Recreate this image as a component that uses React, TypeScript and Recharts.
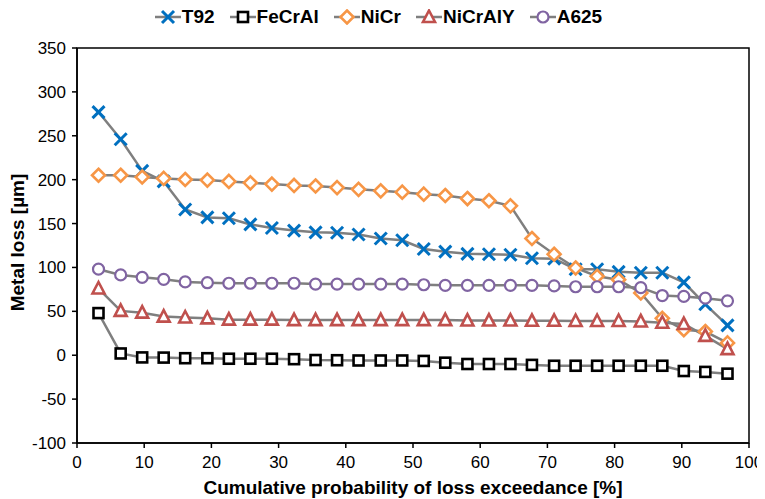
import React from "react";
import { LineChart, Line, XAxis, YAxis, ReferenceArea, Legend } from "recharts";

const probability = [3.2, 6.5, 9.7, 12.9, 16.1, 19.4, 22.6, 25.8, 29.0, 32.3, 35.5, 38.7, 41.9, 45.2, 48.4, 51.6, 54.8, 58.1, 61.3, 64.5, 67.7, 71.0, 74.2, 77.4, 80.6, 83.9, 87.1, 90.3, 93.5, 96.8];
const t92 = [277, 246, 210, 198, 166, 157, 156, 149, 145, 142, 140, 139.5, 137.5, 133, 131, 121, 118, 115.5, 115, 114.5, 110.5, 110, 98, 98, 95, 94, 94, 83, 58, 34];
const fecral = [48, 2, -2.5, -2.7, -3.4, -3.4, -4, -4, -4, -4.5, -5.5, -5.7, -6, -6, -6, -6.5, -8.5, -10, -10, -10, -11, -12, -12, -12, -12, -12, -12, -18, -19, -21];
const nicr = [205, 205, 203, 201.4, 200.2, 199.5, 198, 196.4, 195, 193.4, 192.8, 191, 189, 187.3, 185.8, 183.5, 182, 178.5, 176, 170.2, 133, 115, 99.4, 90, 86, 71, 42, 29, 27, 14];
const nicraly = [76, 50.5, 48.5, 44, 43, 42, 40.5, 40.5, 40.5, 40, 40, 40, 40, 40, 40, 40, 40, 39.5, 39.5, 39.5, 39.2, 39.2, 39, 39, 39, 38.5, 37, 35.5, 22, 7];
const a625 = [98, 91.5, 88.7, 86.5, 83.5, 82.6, 82, 82, 82, 82, 81, 81, 81, 81, 81, 80.3, 79.6, 79.6, 79.6, 79.6, 79.6, 79, 78, 78, 78, 77, 68, 67, 65, 62];

const seriesNames = ["T92", "FeCrAl", "NiCr", "NiCrAlY", "A625"];
const xTicks = [0, 10, 20, 30, 40, 50, 60, 70, 80, 90, 100];
const yTicks = [-100, -50, 0, 50, 100, 150, 200, 250, 300, 350];

const data = probability.map((p, i) => ({
  p,
  T92: t92[i],
  FeCrAl: fecral[i],
  NiCr: nicr[i],
  NiCrAlY: nicraly[i],
  A625: a625[i],
}));

const FONT = '"Liberation Sans", Arial, sans-serif';
const LINE_GRAY = "#7f7f7f";
const BLUE = "#0070c0";
const ORANGE = "#f79646";
const RED = "#c0504d";
const PURPLE = "#8064a2";

type M = { cx: number; cy: number };

const XMark = ({ cx, cy }: M) => (
  <g>
    <line x1={cx - 6} y1={cy - 6} x2={cx + 6} y2={cy + 6} stroke={BLUE} strokeWidth={3} />
    <line x1={cx - 6} y1={cy + 6} x2={cx + 6} y2={cy - 6} stroke={BLUE} strokeWidth={3} />
  </g>
);
const SquareMark = ({ cx, cy }: M) => (
  <rect x={cx - 5} y={cy - 5} width={10} height={10} fill="#fff" stroke="#000" strokeWidth={2.6} />
);
const DiamondMark = ({ cx, cy }: M) => (
  <polygon points={`${cx},${cy - 6.5} ${cx + 6.5},${cy} ${cx},${cy + 6.5} ${cx - 6.5},${cy}`} fill="#fff" stroke={ORANGE} strokeWidth={2.6} />
);
const TriangleMark = ({ cx, cy }: M) => (
  <polygon points={`${cx},${cy - 6.5} ${cx + 6},${cy + 5} ${cx - 6},${cy + 5}`} fill="#fff" stroke={RED} strokeWidth={2.6} />
);
const CircleMark = ({ cx, cy }: M) => (
  <circle cx={cx} cy={cy} r={5.5} fill="#fff" stroke={PURPLE} strokeWidth={2.2} />
);

const markers: Record<string, (p: M) => React.ReactElement> = {
  T92: XMark,
  FeCrAl: SquareMark,
  NiCr: DiamondMark,
  NiCrAlY: TriangleMark,
  A625: CircleMark,
};

const dotFor = (name: string) => (props: any) => {
  const Mk = markers[name];
  if (props.cx == null || props.cy == null) return <g key={`${name}-${props.index}`} />;
  return (
    <g key={`${name}-${props.index}`}>
      <Mk cx={props.cx} cy={props.cy} />
    </g>
  );
};

const LegendContent = () => (
  <div
    style={{
      height: 40,
      display: "flex",
      justifyContent: "center",
      alignItems: "flex-start",
      boxSizing: "border-box",
      fontFamily: FONT,
      fontWeight: "bold",
      fontSize: 19,
      color: "#000",
    }}
  >
    {seriesNames.map((n, i) => {
      const Mk = markers[n];
      return (
        <div key={n} style={{ display: "flex", alignItems: "center", marginRight: i === seriesNames.length - 1 ? 0 : 15, height: 20, marginTop: -1 }}>
          <svg width={26} height={16} style={{ marginRight: 1 }}>
            <line x1={0} y1={8} x2={26} y2={8} stroke={LINE_GRAY} strokeWidth={2.5} />
            <Mk cx={13} cy={8} />
          </svg>
          <span>{n}</span>
        </div>
      );
    })}
  </div>
);

export default function App() {
  return (
    <div style={{ width: 757, height: 491 }}>
      <LineChart width={757} height={491} data={data} margin={{ top: 0, right: 16, bottom: 0, left: 0 }}>
        <Legend verticalAlign="top" align="center" content={<LegendContent />} wrapperStyle={{ height: 40 }} />
        <XAxis
          dataKey="p"
          type="number"
          domain={[0, 100]}
          ticks={xTicks}
          interval={0}
          allowDataOverflow
          height={56}
          tickSize={5}
          tickMargin={8}
          axisLine={{ stroke: "#000", strokeWidth: 1.5 }}
          tickLine={{ stroke: "#000", strokeWidth: 1.5 }}
          tick={{ fill: "#000", fontSize: 17, fontFamily: FONT }}
          label={{
            content: (props: any) => {
              const vb = props.viewBox || { x: 69, width: 672, y: 435 };
              return (
                <text x={vb.x + vb.width / 2} y={vb.y + 51} textAnchor="middle" fontFamily={FONT} fontWeight="bold" fontSize={19} fill="#000">
                  Cumulative probability of loss exceedance [%]
                </text>
              );
            },
          }}
        />
        <YAxis
          type="number"
          domain={[-100, 350]}
          ticks={yTicks}
          interval={0}
          allowDataOverflow
          width={69}
          tickSize={5}
          tickMargin={6}
          axisLine={{ stroke: "#000", strokeWidth: 1.5 }}
          tickLine={{ stroke: "#000", strokeWidth: 1.5 }}
          tick={{ fill: "#000", fontSize: 17, fontFamily: FONT }}
          label={{
            content: (props: any) => {
              const vb = props.viewBox || { x: 0, y: 40, height: 395 };
              const cy = vb.y + vb.height / 2 - 3;
              return (
                <text x={16} y={cy} transform={`rotate(-90, 16, ${cy})`} textAnchor="middle" fontFamily={FONT} fontWeight="bold" fontSize={19} fill="#000">
                  Metal loss [µm]
                </text>
              );
            },
          }}
        />
        <ReferenceArea x1={0} x2={100} y1={-100} y2={350} fill="none" stroke="#000" strokeWidth={1.5} ifOverflow="visible" />
        {seriesNames.map((n) => (
          <Line
            key={n}
            dataKey={n}
            type="linear"
            stroke={LINE_GRAY}
            strokeWidth={2.5}
            dot={dotFor(n)}
            activeDot={false}
            isAnimationActive={false}
          />
        ))}
      </LineChart>
    </div>
  );
}
